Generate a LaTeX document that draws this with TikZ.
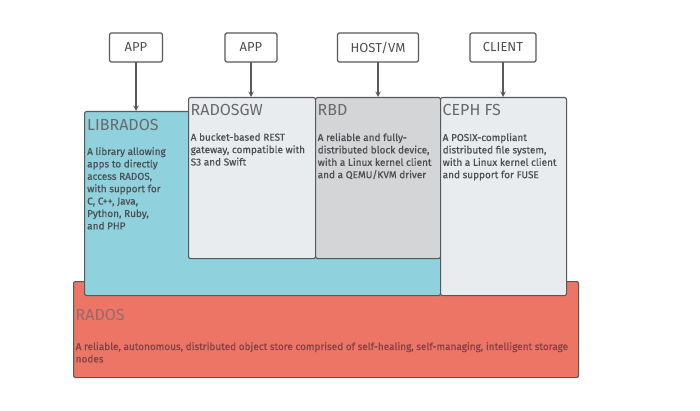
\documentclass[tikz,border=0pt]{standalone}
\usepackage{fontspec}
\setmainfont{Fira Sans}
\newfontfamily\descfont[FakeBold=0.5]{Fira Sans}
\definecolor{edge}{RGB}{88,88,90}
\definecolor{libblue}{RGB}{143,210,222}
\definecolor{paleg}{RGB}{233,236,238}
\definecolor{midg}{RGB}{212,213,214}
\definecolor{salmon}{RGB}{237,117,102}
\definecolor{ttl}{RGB}{105,105,108}
\definecolor{txt}{RGB}{78,78,82}
\definecolor{radtxt}{RGB}{125,68,66}
\begin{document}
\begin{tikzpicture}[x=1pt, y=-1pt, line join=round, line cap=round, >=stealth,
	layer/.style={draw=edge, line width=1.1pt, rounded corners=2pt, anchor=north west, inner sep=0pt},
	app/.style={draw=edge, line width=1.1pt, rounded corners=1.5pt, fill=white, minimum height=29pt, inner sep=0pt, text=txt, font=\fontsize{13}{15}\selectfont},
	title/.style={anchor=north west, inner sep=0pt, text=ttl, font=\fontsize{16}{18}\selectfont},
	desc/.style={anchor=north west, inner sep=0pt, align=left, text=txt, font=\descfont\fontsize{10}{12.4}\selectfont}]
	\useasboundingbox (0,0) rectangle (700,411);
	% Lớp dưới cùng
	\node[layer, fill=salmon, minimum width=505pt, minimum height=96pt] (rados) at (73,281) {};
	\node[layer, fill=libblue, minimum width=356pt, minimum height=184pt] (librados) at (84,111) {};
	\node[layer, fill=paleg, minimum width=127pt, minimum height=161pt] (radosgw) at (188,97) {};
	\node[layer, fill=midg, minimum width=125pt, minimum height=161pt] (rbd) at (315,97) {};
	\node[layer, fill=paleg, minimum width=126pt, minimum height=198pt] (cephfs) at (440,97) {};
	% Tiêu đề và mô tả
	\node[title, text=radtxt!80] (radosT) at ([shift={(2.5,28)}]rados.north west) {RADOS};
	\node[desc, text=radtxt] (radosD) at ([shift={(2.5,61)}]rados.north west) {A reliable, autonomous, distributed object store comprised of self-healing, self-managing, intelligent storage\\nodes};
	\node[title] (libradosT) at ([shift={(3,8)}]librados.north west) {LIBRADOS};
	\node[desc] (libradosD) at ([shift={(3,36)}]librados.north west) {A library allowing\\apps to directly\\access RADOS,\\with support for\\C, C++, Java,\\Python, Ruby,\\and PHP};
	\node[title] (radosgwT) at ([shift={(2.5,7)}]radosgw.north west) {RADOSGW};
	\node[desc] (radosgwD) at ([shift={(2.5,36)}]radosgw.north west) {A bucket-based REST\\gateway, compatible with\\S3 and Swift};
	\node[title] (rbdT) at ([shift={(2.5,7)}]rbd.north west) {RBD};
	\node[desc] (rbdD) at ([shift={(2.5,36)}]rbd.north west) {A reliable and fully-\\distributed block device,\\with a Linux kernel client\\and a QEMU/KVM driver};
	\node[title] (cephfsT) at ([shift={(2.5,7)}]cephfs.north west) {CEPH FS};
	\node[desc] (cephfsD) at ([shift={(2.5,36)}]cephfs.north west) {A POSIX-compliant\\distributed file system,\\with a Linux kernel client\\and support for FUSE};
	% Các ứng dụng phía trên
	\node[app, minimum width=53pt] (app1) at (136,47.5) {APP};
	\node[app, minimum width=52pt] (app2) at (251,47.5) {APP};
	\node[app, minimum width=81pt] (host) at (378,47.5) {HOST/VM};
	\node[app, minimum width=66pt] (client) at (503,47.5) {CLIENT};
	\foreach \s/\t in {app1/librados, app2/radosgw, host/rbd, client/cephfs}
		\draw[->, draw=edge, line width=1.4pt] (\s) -- (\s |- \t.north);
\end{tikzpicture}
\end{document}
